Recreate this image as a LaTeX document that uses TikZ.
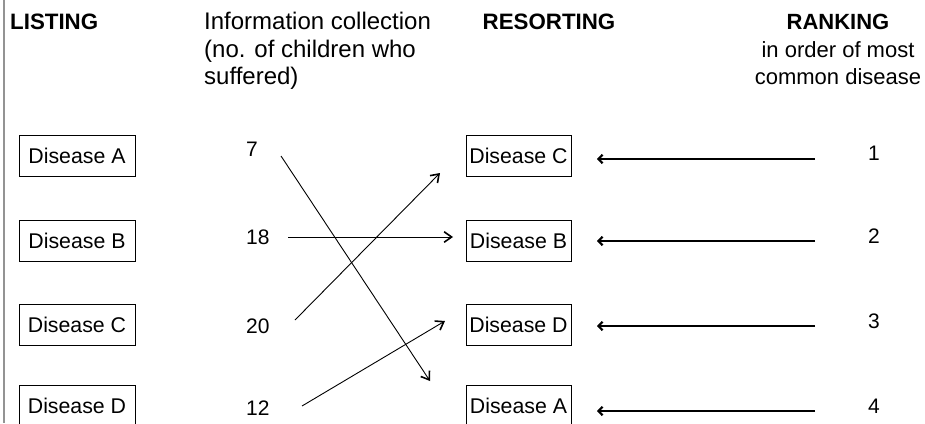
\documentclass[tikz,border=0pt]{standalone}
\usepackage{fontspec}
\setmainfont{Liberation Sans}
\usetikzlibrary{arrows.meta}

\begin{document}
\begin{tikzpicture}[x=1pt,y=-1pt,
  hdr/.style={font=\fontsize{22.3}{27.5}\selectfont\bfseries, inner sep=0pt},
  info/.style={font=\fontsize{24}{27.5}\selectfont, inner sep=0pt, align=left},
  rank/.style={font=\fontsize{22}{27.5}\selectfont, inner sep=0pt, align=center},
  leftbox/.style={draw, line width=0.8pt, minimum width=116pt, minimum height=41pt,
    inner sep=0pt, font=\fontsize{21.3}{25}\selectfont},
  rightbox/.style={leftbox, minimum width=105pt},
  count/.style={font=\fontsize{21}{25}\selectfont, inner sep=0pt, anchor=base west},
  place/.style={font=\fontsize{21}{25}\selectfont, inner sep=0pt, anchor=base},
  link/.style={line width=0.9pt, -{Straight Barb[length=7.5pt,width=10.5pt,line width=1.6pt]}},
  back/.style={line width=2.8pt, -{Straight Barb[length=4pt,width=8.5pt,line width=2.2pt]}}
]
\useasboundingbox (0,0) rectangle (925,423);

% margin rule on the left
\draw[line width=2pt, color=gray!85] (3.7,0) -- (3.7,423);

% column headings (multi-line nodes sit on their last baseline)
\node[hdr, anchor=base west] (hlist) at (10,29.5) {LISTING};
\node[info, anchor=base west] (hinfo) at (204,84.5)
  {Information collection\\(no. of children who\\suffered)};
\node[hdr, anchor=base] (hsort) at (549,29.5) {RESORTING};
\node[rank, anchor=base] (hrank) at (838,84.5)
  {{\bfseries RANKING}\\in order of most\\common disease};

% listing
\node[leftbox] (la) at (77,155.5) {Disease A};
\node[leftbox] (lb) at (77,240.5) {Disease B};
\node[leftbox] (lc) at (77,325) {Disease C};
\node[leftbox] (ld) at (77,406) {Disease D};

% counts
\node[count] (n7)  at (246,156) {7};
\node[count] (n18) at (246,244) {18};
\node[count] (n20) at (246,333) {20};
\node[count] (n12) at (246,415) {12};

% resorted list
\node[rightbox] (rc) at (518.5,156) {Disease C};
\node[rightbox] (rb) at (518.5,240.5) {Disease B};
\node[rightbox] (rd) at (518.5,325) {Disease D};
\node[rightbox] (ra) at (518.5,406) {Disease A};

% ranks
\node[place] (k1) at (874,160) {1};
\node[place] (k2) at (874,243) {2};
\node[place] (k3) at (874,328) {3};
\node[place] (k4) at (874,413) {4};

% ends of the sorting arrows
\coordinate (s7)  at (281,156);
\coordinate (e7)  at (430,381);
\coordinate (s18) at (288,237);
\coordinate (e18) at (453,237);
\coordinate (s20) at (295,320);
\coordinate (e20) at (440,173);
\coordinate (s12) at (302,406);
\coordinate (e12) at (445,321);

\draw[link] (s7) -- (e7);
\draw[link] (s18) -- (e18);
\draw[link] (s20) -- (e20);
\draw[link] (s12) -- (e12);

% rank arrows pointing back to the resorted list
\coordinate (b1) at (815,159);
\coordinate (b2) at (815,241);
\coordinate (b3) at (815,326);
\coordinate (b4) at (815,411);
\coordinate (t1) at (597,159);
\coordinate (t2) at (597,241);
\coordinate (t3) at (597,326);
\coordinate (t4) at (597,411);

\draw[back] (b1) -- (t1);
\draw[back] (b2) -- (t2);
\draw[back] (b3) -- (t3);
\draw[back] (b4) -- (t4);
\end{tikzpicture}
\end{document}
